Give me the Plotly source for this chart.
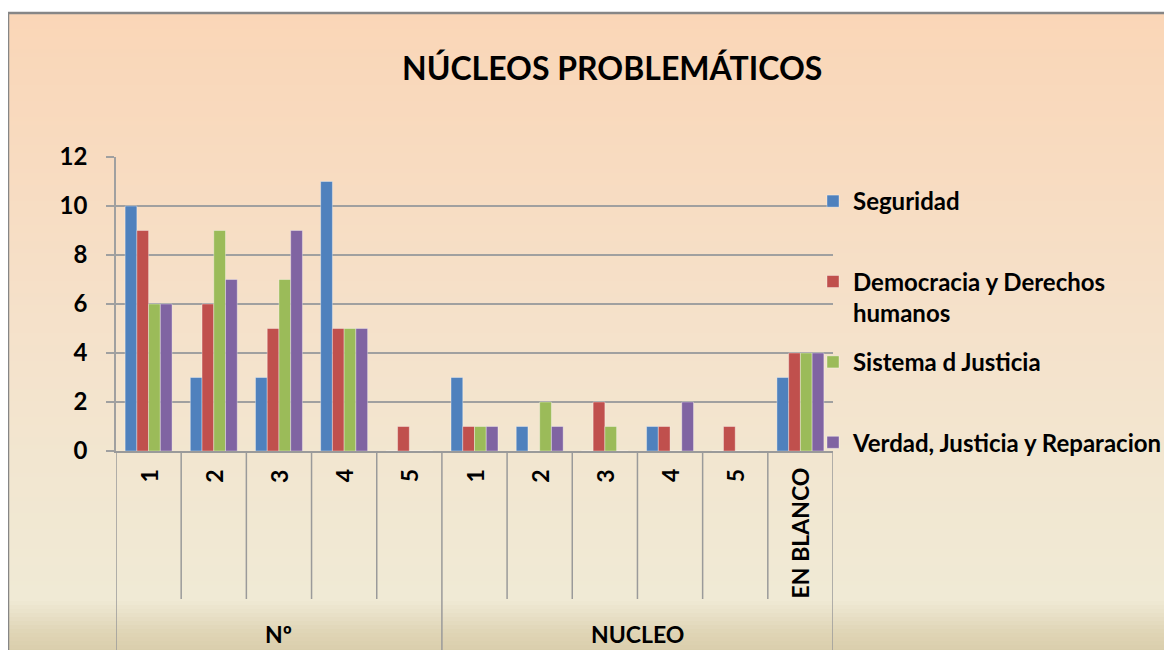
import plotly.graph_objects as go

# ---- data ----
categories = ["1", "2", "3", "4", "5", "1", "2", "3", "4", "5", "EN BLANCO"]
groups = ["Nº", "NUCLEO"]
group_spans = [(0, 4), (5, 10)]
seguridad = [10, 3, 3, 11, 0, 3, 1, 0, 1, 0, 3]
democracia = [9, 6, 5, 5, 1, 1, 0, 2, 1, 1, 4]
sistema = [6, 9, 7, 5, 0, 1, 2, 1, 0, 0, 4]
verdad = [6, 7, 9, 5, 0, 1, 1, 0, 2, 0, 4]
series_names = ["Seguridad", "Democracia y Derechos<br>humanos", "Sistema d Justicia",
                "Verdad, Justicia y Reparacion"]
series_values = [seguridad, democracia, sistema, verdad]
colors = ["#4F81BD", "#C0504D", "#9BBB59", "#8064A2"]
title_text = "NÚCLEOS PROBLEMÁTICOS"

OFF = 8  # page body margin
W, H = 1164, 642
# plot area in screenshot pixels
SL, SR, ST, SB = 116, 833, 157, 451
L, R, T, B = SL - OFF, SR - OFF, ST - OFF, SB - OFF
FONT = "Lato"
FS = 23
LFS = 24

xpos = list(range(len(categories)))

fig = go.Figure()
for i, (name, vals) in enumerate(zip(series_names, series_values)):
    label = "<b>" + name.replace("<br>", "</b><br><b>") + "</b>"
    if "<br>" not in name:
        label += "<br> "
    fig.add_trace(go.Bar(
        x=xpos, y=vals, name=label, legendgroup=str(i),
        marker=dict(color=colors[i], line=dict(color="rgba(255,255,255,0.35)", width=1)),
    ))


def py(ys):  # screenshot y -> paper y
    return (SB - ys) / (SB - ST)


def px(xs):  # screenshot x -> paper x
    return (xs - SL) / (SR - SL)


shapes = []
# gradient background
stops = [(13, (250, 214, 183)), (160, (248, 219, 192)), (320, (245, 225, 202)),
         (460, (242, 230, 208)), (600, (240, 234, 213)), (615, (232, 224, 199)),
         (632, (224, 213, 182)), (660, (214, 202, 168))]


def col_at(y):
    for (y0, c0), (y1, c1) in zip(stops, stops[1:]):
        if y0 <= y <= y1:
            t = (y - y0) / (y1 - y0)
            return tuple(round(a + (b - a) * t) for a, b in zip(c0, c1))
    return stops[-1][1]


step = 4
y = 13
while y < H + OFF:
    c = col_at(y + step / 2)
    shapes.append(dict(type="rect", xref="paper", yref="paper", x0=px(8), x1=px(W + 30),
                       y0=py(y), y1=py(y + step + 0.5), layer="below",
                       fillcolor="rgb(%d,%d,%d)" % c, line=dict(width=0)))
    y += step
# outer border
shapes.append(dict(type="line", xref="paper", yref="paper", x0=px(8), x1=px(W + 30),
                   y0=py(13), y1=py(13), line=dict(color="#868686", width=2.5)))
shapes.append(dict(type="line", xref="paper", yref="paper", x0=px(8), x1=px(8),
                   y0=py(13), y1=py(H + 30), line=dict(color="#868686", width=2.5)))

# category dividers
group_edges = {-0.5, 4.5, 10.5}
for k in range(len(categories) + 1):
    xe = k - 0.5
    yb = py(H + 30) if xe in group_edges else py(599)
    shapes.append(dict(type="line", xref="x", yref="paper", x0=xe, x1=xe, y0=0, y1=yb,
                       line=dict(color="#9A9A9A", width=1.5)))

annotations = []
for i, c in enumerate(categories):
    yc = 533 if c == "EN BLANCO" else 476
    annotations.append(dict(x=i, y=py(yc), xref="x", yref="paper", text="<b>%s</b>" % c,
                            textangle=-90, showarrow=False, xanchor="center", yanchor="middle",
                            font=dict(family=FONT, size=FS, color="black")))
for g, (a, b) in zip(groups, group_spans):
    annotations.append(dict(x=(a + b) / 2, y=py(634), xref="x", yref="paper",
                            text="<b>%s</b>" % g, showarrow=False,
                            xanchor="center", yanchor="middle",
                            font=dict(family=FONT, size=FS, color="black")))
annotations.append(dict(x=px(612), y=py(67), xref="paper", yref="paper",
                        text="<b>%s</b>" % title_text, showarrow=False,
                        xanchor="center", yanchor="middle",
                        font=dict(family=FONT, size=32, color="black")))

fig.update_layout(
    width=W, height=H,
    margin=dict(l=L, r=W - R, t=T, b=H - B, autoexpand=False),
    paper_bgcolor="white", plot_bgcolor="white",
    barmode="group", bargap=0.28, bargroupgap=0,
    shapes=shapes, annotations=annotations,
    font=dict(family=FONT, color="black"),
    legend=dict(x=px(813), y=py(179), xanchor="left", yanchor="top",
                font=dict(family=FONT, size=LFS, color="black"),
                tracegroupgap=15, valign="top", bgcolor="rgba(0,0,0,0)",
                itemclick=False, maxheight=640),
    showlegend=True,
    xaxis=dict(range=[-0.5, len(categories) - 0.5], showticklabels=False, ticks="",
               showgrid=False, zeroline=False, showline=True, linecolor="#9A9A9A",
               linewidth=2, fixedrange=True),
    yaxis=dict(range=[0, 12], dtick=2, showgrid=True, gridcolor="#A0A0A0", gridwidth=1.5,
               zeroline=False, showline=True, linecolor="#A0A0A0", linewidth=1.5,
               ticks="outside", ticklen=8, tickcolor="#A0A0A0", tickwidth=1.5,
               ticklabelstandoff=14,
               tickfont=dict(family=FONT, size=24, color="black"), tickprefix="<b>",
               ticksuffix="</b>", fixedrange=True),
)
fig.write_html("out.html")
